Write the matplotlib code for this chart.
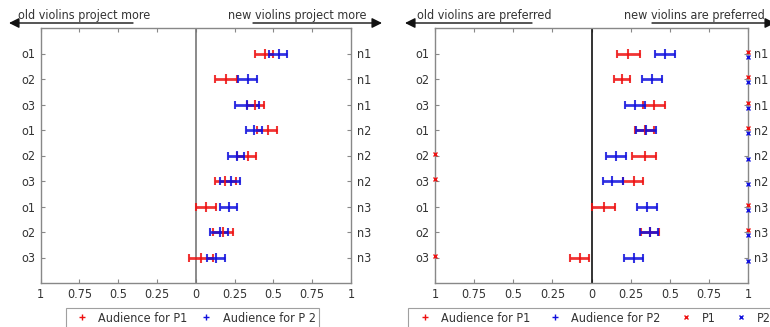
import matplotlib
matplotlib.use("Agg")
import matplotlib.pyplot as plt
from matplotlib.lines import Line2D
import numpy as np

plt.rcParams["font.family"] = ["DejaVu Sans"]
plt.rcParams["font.stretch"] = "condensed"

# ---- data ----
left_labels = ["o1", "o2", "o3", "o1", "o2", "o3", "o1", "o2", "o3"]
right_labels = ["n1", "n1", "n1", "n2", "n2", "n2", "n3", "n3", "n3"]
xtick_vals = [-1, -0.75, -0.5, -0.25, 0, 0.25, 0.5, 0.75, 1]
xtick_text = ["1", "0.75", "0.5", "0.25", "0", "0.25", "0.5", "0.75", "1"]

# Panel A: projection  (low, center, high)
proj_p1_lo = [0.38, 0.125, 0.33, 0.397, 0.264, 0.125, 0.0, 0.114, -0.047]
proj_p1_c = [0.446, 0.193, 0.382, 0.463, 0.335, 0.19, 0.065, 0.178, 0.033]
proj_p1_hi = [0.50, 0.264, 0.44, 0.525, 0.388, 0.258, 0.129, 0.242, 0.114]
proj_p2_lo = [0.474, 0.275, 0.253, 0.322, 0.21, 0.157, 0.157, 0.093, 0.075]
proj_p2_c = [0.536, 0.339, 0.328, 0.375, 0.268, 0.226, 0.215, 0.157, 0.131]
proj_p2_hi = [0.59, 0.393, 0.408, 0.429, 0.311, 0.285, 0.268, 0.21, 0.185]

# Panel B: preference
pref_p1_lo = [0.162, 0.141, 0.329, 0.275, 0.261, 0.2, 0.004, 0.318, -0.137]
pref_p1_c = [0.235, 0.197, 0.397, 0.34, 0.34, 0.269, 0.077, 0.372, -0.075]
pref_p1_hi = [0.308, 0.248, 0.472, 0.40, 0.41, 0.329, 0.147, 0.43, -0.013]
pref_p2_lo = [0.404, 0.325, 0.216, 0.282, 0.09, 0.072, 0.293, 0.312, 0.205]
pref_p2_c = [0.468, 0.389, 0.280, 0.346, 0.158, 0.133, 0.357, 0.372, 0.269]
pref_p2_hi = [0.532, 0.451, 0.340, 0.41, 0.218, 0.2, 0.419, 0.425, 0.329]
# players' own choices (+1 new preferred, -1 old preferred)
player_p1 = [1, 1, 1, 1, -1, -1, 1, 1, -1]
player_p2 = [1, 1, 1, 1, 1, 1, 1, 1, 1]

RED = "#ee1111"
BLUE = "#1111dd"
TXT = "#333333"
SP = "#888888"

fig = plt.figure(figsize=(7.7, 3.27), dpi=100)
W, H = 770, 327

def fx(px):
    return px / W

def fy(py):
    return 1 - py / H

axL = fig.add_axes([fx(40.6), fy(283), fx(351 - 40.6), (283 - 28) / H])
axR = fig.add_axes([fx(435), fy(283), fx(748 - 435), (283 - 28) / H])

ys = np.arange(1, 10)

def draw_bars(ax, lo, c, hi, color):
    lo = np.array(lo); c = np.array(c); hi = np.array(hi)
    ax.errorbar(c, ys, xerr=[c - lo, hi - c], fmt="none", ecolor=color,
                elinewidth=2, capsize=3, capthick=1.5, alpha=0.85, zorder=3)
    ax.plot(c, ys, linestyle="none", marker="|", markersize=7, mew=1.5,
            color=color, alpha=0.85, zorder=4)

def style(ax, zero_color):
    ax.set_xlim(-1, 1)
    ax.set_ylim(10, 0)
    ax.axvline(0, color=zero_color, lw=1.2, zorder=2)
    ax.set_xticks(xtick_vals)
    ax.set_xticklabels(xtick_text, fontsize=9, color=TXT)
    ax.set_yticks(ys)
    ax.set_yticklabels(left_labels, fontsize=9, color=TXT)
    ax.tick_params(axis="both", direction="in", length=3, color=SP,
                   top=True, bottom=True, left=True, right=True, pad=4)
    ax.tick_params(axis="x", pad=3.5)
    for s in ax.spines.values():
        s.set_color(SP)
        s.set_linewidth(1)
    ax2 = ax.twinx()
    ax2.set_ylim(10, 0)
    ax2.set_yticks(ys)
    ax2.set_yticklabels(right_labels, fontsize=9, color=TXT)
    ax2.tick_params(axis="y", direction="in", length=3, color=SP, pad=4)
    for s in ax2.spines.values():
        s.set_visible(False)

style(axL, "#777777")
draw_bars(axL, proj_p1_lo, proj_p1_c, proj_p1_hi, RED)
draw_bars(axL, proj_p2_lo, proj_p2_c, proj_p2_hi, BLUE)

style(axR, "#111111")
draw_bars(axR, pref_p1_lo, pref_p1_c, pref_p1_hi, RED)
draw_bars(axR, pref_p2_lo, pref_p2_c, pref_p2_hi, BLUE)
axR.plot(player_p1, ys - 0.07, linestyle="none", marker="x", markersize=3.5,
         mew=1, color=RED, clip_on=False, zorder=5)
axR.plot(player_p2, ys + 0.12, linestyle="none", marker="x", markersize=3.5,
         mew=1, color=BLUE, clip_on=False, zorder=5)

# legends
h1 = Line2D([], [], linestyle="none", marker="+", color=RED, markersize=4.5)
h2 = Line2D([], [], linestyle="none", marker="+", color=BLUE, markersize=4.5)
h3 = Line2D([], [], linestyle="none", marker="x", color=RED, markersize=3)
h4 = Line2D([], [], linestyle="none", marker="x", color=BLUE, markersize=3)
legkw = dict(loc="center", fontsize=9, frameon=True, fancybox=False,
             edgecolor=SP, handlelength=2.0, handletextpad=0.3,
             borderpad=0.3, labelcolor=TXT)
yl = (fy(318) - fy(283)) / ((283 - 28) / H)
lg1 = axL.legend([h1, h2], ["Audience for P1", "Audience for P 2"], ncol=2,
                 bbox_to_anchor=(0.49, yl), columnspacing=0.5, **legkw)
lg1.get_frame().set_linewidth(0.8)
lg2 = axR.legend([h1, h2, h3, h4], ["Audience for P1", "Audience for P2", "P1", "P2"],
                 ncol=4, bbox_to_anchor=(0.5, yl), columnspacing=1.0, **legkw)
lg2.get_frame().set_linewidth(0.8)

# direction arrows and labels
def arrow(x_from, x_to, y):
    fig.add_artist(matplotlib.patches.FancyArrowPatch(
        (fx(x_from), fy(y)), (fx(x_to), fy(y)), transform=fig.transFigure,
        arrowstyle="-|>,head_length=4,head_width=2", color="#111111",
        lw=1, mutation_scale=1.5, shrinkA=0, shrinkB=0))

arrow(133, 9, 23)
arrow(253, 382, 23)
fig.text(fx(18), fy(16), "old violins project more", fontsize=9, color=TXT,
         ha="left", va="center")
fig.text(fx(367), fy(16), "new violins project more", fontsize=9, color=TXT,
         ha="right", va="center")
arrow(532, 405, 23)
arrow(652, 775, 23)
fig.text(fx(417), fy(16), "old violins are preferred", fontsize=9, color=TXT,
         ha="left", va="center")
fig.text(fx(765), fy(16), "new violins are preferred", fontsize=9, color=TXT,
         ha="right", va="center")

fig.savefig("out.png", dpi=100)
